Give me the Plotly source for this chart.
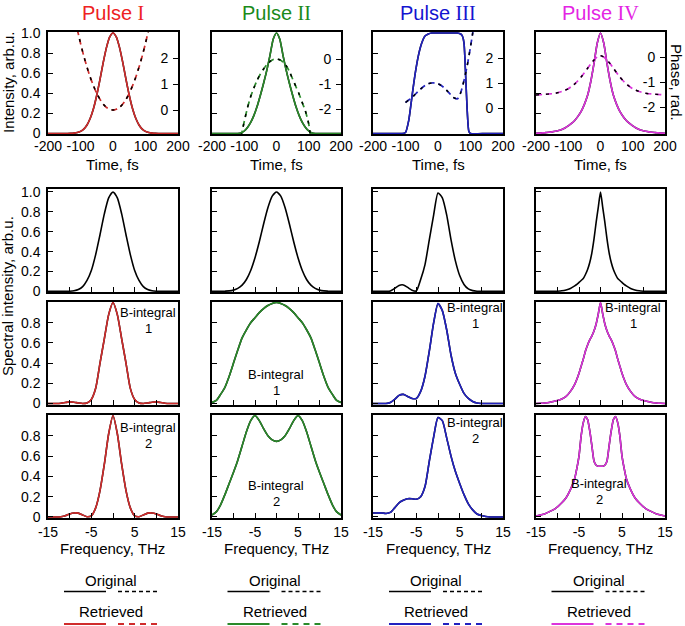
import plotly.graph_objects as go

W, H = 685, 626

# ---------------- data ----------------
PULSES = ["I", "II", "III", "IV"]
TITLE_COLORS = ["#ee2222", "#1a8a1a", "#1414d0", "#e424e4"]
LINE_COLORS = ["#d02c2c", "#2a8a2a", "#2222c0", "#dc34dc"]

# time grid (fs)
T = [-200, -190, -180, -170, -160, -150, -140, -130, -120, -110, -100, -90, -80, -70, -60,
     -50, -40, -30, -20, -10, 0, 10, 20, 30, 40, 50, 60, 70, 80, 90, 100, 110, 120, 130,
     140, 150, 160, 170, 180, 190, 200]

INT_I = [0, 0, 0, 0, 0, 0, 0, 0.001, 0.004, 0.009, 0.021, 0.044, 0.085, 0.151, 0.249, 0.381,
         0.539, 0.707, 0.857, 0.962, 1.0, 0.962, 0.857, 0.707, 0.539, 0.381, 0.249, 0.151,
         0.085, 0.044, 0.021, 0.009, 0.004, 0.001, 0, 0, 0, 0, 0, 0, 0]
INT_II = [0, 0, 0, 0, 0, 0, 0, 0, 0, 0.005, 0.025, 0.06, 0.11, 0.18, 0.27, 0.38, 0.5, 0.63,
          0.78, 0.94, 1.0, 0.94, 0.78, 0.63, 0.5, 0.38, 0.27, 0.18, 0.11, 0.06, 0.025, 0.005,
          0, 0, 0, 0, 0, 0, 0, 0, 0]
T_III = [-200, -150, -110, -100, -90, -80, -70, -60, -50, -40, -30, -20, 0, 20, 40, 60, 70,
         75, 80, 85, 90, 95, 100, 150, 200]
INT_III = [0, 0, 0, 0.01, 0.13, 0.37, 0.6, 0.78, 0.9, 0.97, 0.99, 1.0, 1.0, 1.0, 1.0, 1.0,
           0.99, 0.97, 0.9, 0.58, 0.22, 0.02, 0, 0, 0]
INT_IV = [0.003, 0.004, 0.006, 0.009, 0.012, 0.016, 0.022, 0.03, 0.04, 0.055, 0.075, 0.1,
          0.13, 0.17, 0.22, 0.29, 0.38, 0.52, 0.7, 0.9, 1.0, 0.9, 0.7, 0.52, 0.38, 0.29, 0.22,
          0.17, 0.13, 0.1, 0.075, 0.055, 0.04, 0.03, 0.022, 0.016, 0.012, 0.009, 0.006,
          0.004, 0.003]

# phases (rad)
T_PH_I = [-110, -100, -90, -80, -70, -60, -50, -40, -30, -20, -10, 0, 10, 20, 30, 40, 50,
          60, 70, 80, 90, 100, 110]
PH_I = [3.11, 2.57, 2.08, 1.65, 1.26, 0.93, 0.64, 0.41, 0.23, 0.10, 0.03, 0.0, 0.03, 0.10,
        0.23, 0.41, 0.64, 0.93, 1.26, 1.65, 2.08, 2.57, 3.11]
T_PH_II = [-110, -100, -90, -80, -70, -60, -50, -40, -30, -20, -10, 0, 10, 20, 30, 40, 50,
           60, 70, 80, 90, 100, 105]
PH_II = [-3.1, -2.5, -1.95, -1.5, -1.15, -0.85, -0.6, -0.4, -0.23, -0.1, -0.02, 0.0, -0.03,
         -0.12, -0.27, -0.5, -0.8, -1.1, -1.4, -1.75, -2.1, -2.6, -3.05]
T_PH_III = [-100, -90, -80, -70, -60, -50, -40, -30, -20, -10, 0, 10, 20, 30, 40, 50, 60,
            70, 80, 90, 100, 108]
PH_III = [0.22, 0.32, 0.42, 0.55, 0.68, 0.8, 0.9, 0.97, 1.0, 1.0, 0.97, 0.9, 0.8, 0.66,
          0.52, 0.4, 0.37, 0.62, 1.1, 1.7, 2.45, 3.1]
PH_IV = [-1.52, -1.51, -1.5, -1.49, -1.48, -1.47, -1.45, -1.42, -1.38, -1.33, -1.27, -1.18,
         -1.08, -0.95, -0.8, -0.63, -0.45, -0.27, -0.12, 0.0, 0.05, 0.0, -0.12, -0.27, -0.45,
         -0.63, -0.8, -0.95, -1.08, -1.18, -1.27, -1.33, -1.38, -1.42, -1.45, -1.47, -1.48,
         -1.49, -1.5, -1.51, -1.52]

PH_RANGES = [[-0.92, 3.0], [-3.0, 1.08], [-1.04, 3.04], [-3.08, 1.0]]
PH_TICKS = [[0, 1, 2], [-2, -1, 0], [0, 1, 2], [-2, -1, 0]]
PH_TEXT = [["0", "1", "2"], ["-2", "-1", "0"], ["0", "1", "2"], ["-2", "-1", "0"]]

# frequency grid (THz)
F = [-15, -14, -13, -12, -11, -10, -9, -8, -7, -6, -5, -4, -3, -2, -1, 0, 1, 2, 3, 4, 5, 6,
     7, 8, 9, 10, 11, 12, 13, 14, 15]
F_IV = [-15, -14, -13, -12, -11, -10, -9, -8, -7, -6, -5.5, -5, -4.5, -4, -3.5, -3, -2.5, -2,
        -1.5, -1, -0.5, 0, 0.5, 1, 1.5, 2, 2.5, 3, 3.5, 4, 4.5, 5, 5.5, 6, 7, 8, 9, 10, 11, 12,
        13, 14, 15]

SPEC_I_ORIG = [0, 0, 0, 0, 0, 0.002, 0.007, 0.019, 0.048, 0.11, 0.21, 0.37, 0.57, 0.78, 0.94,
               1.0, 0.94, 0.78, 0.57, 0.37, 0.21, 0.11, 0.048, 0.019, 0.007, 0.002, 0, 0, 0,
               0, 0]
SPEC_I_B1 = [0, 0, 0, 0.003, 0.01, 0.016, 0.012, 0.005, 0.0, 0.005, 0.04, 0.15, 0.40, 0.64,
             0.88, 1.0, 0.88, 0.64, 0.40, 0.15, 0.04, 0.005, 0.0, 0.005, 0.012, 0.016, 0.01,
             0.003, 0, 0, 0]
SPEC_I_B2 = [0, 0, 0, 0.003, 0.012, 0.03, 0.04, 0.038, 0.02, 0.003, 0.012, 0.09, 0.26, 0.52,
             0.82, 1.0, 0.82, 0.52, 0.26, 0.09, 0.012, 0.003, 0.02, 0.038, 0.04, 0.03, 0.012,
             0.003, 0, 0, 0]
SPEC_II_ORIG = [0, 0, 0, 0.002, 0.005, 0.013, 0.03, 0.063, 0.12, 0.211, 0.339, 0.5, 0.678,
                0.841, 0.958, 1.0, 0.958, 0.841, 0.678, 0.5, 0.339, 0.211, 0.12, 0.063, 0.03,
                0.013, 0.005, 0.002, 0, 0, 0]
SPEC_II_B1 = [0.01, 0.03, 0.09, 0.16, 0.27, 0.4, 0.53, 0.65, 0.73, 0.8, 0.85, 0.9, 0.94, 0.97,
              0.99, 1.0, 0.99, 0.97, 0.94, 0.9, 0.85, 0.8, 0.73, 0.65, 0.53, 0.4, 0.27, 0.16,
              0.09, 0.03, 0.01]
SPEC_II_B2 = [0.02, 0.05, 0.12, 0.22, 0.33, 0.44, 0.56, 0.7, 0.84, 0.95, 1.0, 0.95, 0.87,
              0.8, 0.76, 0.745, 0.76, 0.8, 0.87, 0.95, 1.0, 0.95, 0.84, 0.7, 0.56, 0.44, 0.33,
              0.22, 0.12, 0.05, 0.02]
SPEC_III_ORIG = [0, 0, 0, 0, 0.005, 0.03, 0.06, 0.065, 0.04, 0.012, 0.005, 0.12, 0.27, 0.52,
                 0.77, 0.99, 0.94, 0.77, 0.52, 0.31, 0.16, 0.07, 0.025, 0.008, 0.002, 0, 0, 0,
                 0, 0, 0]
SPEC_III_B1 = [0, 0, 0, 0, 0.01, 0.04, 0.08, 0.09, 0.07, 0.05, 0.05, 0.12, 0.27, 0.52, 0.8,
               0.99, 0.92, 0.73, 0.48, 0.3, 0.19, 0.1, 0.05, 0.02, 0.005, 0, 0, 0, 0, 0, 0]
SPEC_III_B2 = [0.04, 0.04, 0.04, 0.035, 0.045, 0.09, 0.14, 0.165, 0.18, 0.18, 0.175, 0.2,
               0.3, 0.55, 0.79, 0.98, 0.95, 0.78, 0.6, 0.45, 0.33, 0.22, 0.13, 0.07, 0.03,
               0.015, 0.005, 0, 0, 0, 0]
SPEC_IV_ORIG = [0, 0, 0, 0, 0, 0.002, 0.006, 0.015, 0.03, 0.055, 0.07, 0.09, 0.11, 0.13,
                0.17, 0.22, 0.29, 0.39, 0.53, 0.7, 0.85, 1.0, 0.85, 0.7, 0.53, 0.39, 0.29,
                0.22, 0.17, 0.13, 0.11, 0.09, 0.07, 0.055, 0.03, 0.015, 0.006, 0.002, 0, 0, 0,
                0, 0]
SPEC_IV_B1 = [0, 0.002, 0.005, 0.01, 0.02, 0.03, 0.045, 0.07, 0.12, 0.19, 0.24, 0.3, 0.37,
              0.44, 0.52, 0.58, 0.63, 0.67, 0.72, 0.79, 0.89, 1.0, 0.89, 0.79, 0.72, 0.67,
              0.63, 0.58, 0.52, 0.44, 0.37, 0.3, 0.24, 0.19, 0.12, 0.07, 0.045, 0.03, 0.02,
              0.01, 0.005, 0.002, 0]
SPEC_IV_B2 = [0.01, 0.02, 0.03, 0.05, 0.07, 0.1, 0.14, 0.19, 0.27, 0.38, 0.48, 0.6, 0.8,
              0.93, 0.99, 0.96, 0.85, 0.7, 0.55, 0.51, 0.5, 0.5, 0.5, 0.51, 0.55, 0.7, 0.85,
              0.96, 0.99, 0.93, 0.8, 0.6, 0.48, 0.38, 0.27, 0.19, 0.14, 0.1, 0.07, 0.05, 0.03,
              0.02, 0.01]

TIME_DATA = [(T, INT_I, T_PH_I, PH_I), (T, INT_II, T_PH_II, PH_II),
             (T_III, INT_III, T_PH_III, PH_III), (T, INT_IV, T, PH_IV)]
SPEC_DATA = [(F, SPEC_I_ORIG, SPEC_I_B1, SPEC_I_B2), (F, SPEC_II_ORIG, SPEC_II_B1, SPEC_II_B2),
             (F, SPEC_III_ORIG, SPEC_III_B1, SPEC_III_B2),
             (F_IV, SPEC_IV_ORIG, SPEC_IV_B1, SPEC_IV_B2)]

TIME_TICKS = [-200, -100, 0, 100, 200]
TIME_TEXT = ["-200", "-100", "0", "100", "200"]
FREQ_TICKS = [-15, -10, -5, 0, 5, 10, 15]
FREQ_TEXT = ["-15", "", "-5", "", "5", "", "15"]

# ---------------- layout geometry (pixels) ----------------
COLS = [(48, 178), (212, 341), (373, 503), (536, 665)]
ROWS = [(32, 134), (189, 292), (302, 405), (415, 518)]
Y_RANGES = [[-0.005, 1.01], [-0.006, 1.03], [-0.015, 1.005], [-0.01, 1.005]]
FONT = "Liberation Sans, Arial, sans-serif"


def px(x):
    return x / W


def py(y):
    return 1 - y / H


fig = go.Figure()
layout = dict(width=W, height=H,
              margin=dict(l=0, r=0, t=0, b=0, pad=0, autoexpand=False),
              paper_bgcolor="white", plot_bgcolor="white", showlegend=False,
              font=dict(family=FONT, size=14, color="black"))

SPLINE = dict(shape="spline", smoothing=0.6)

for r in range(4):
    for c in range(4):
        k = r * 4 + c + 1
        xa = "xaxis" if k == 1 else f"xaxis{k}"
        ya = "yaxis" if k == 1 else f"yaxis{k}"
        xref = "x" if k == 1 else f"x{k}"
        yref = "y" if k == 1 else f"y{k}"
        common = dict(showline=True, mirror=True, linecolor="black", linewidth=1.5,
                      showgrid=False, zeroline=False, automargin=False,
                      tickfont=dict(size=14, family=FONT))
        if r == 0:
            xdict = dict(domain=[px(COLS[c][0]), px(COLS[c][1])], range=[-200, 200],
                         tickvals=TIME_TICKS, ticktext=TIME_TEXT, ticks="",
                         ticklabelstandoff=-2,
                         ticklabeloverflow="allow", anchor=yref, **common)
        else:
            xdict = dict(domain=[px(COLS[c][0]), px(COLS[c][1])], range=[-15, 15],
                         tickvals=FREQ_TICKS, ticktext=FREQ_TEXT, ticks="inside",
                         ticklen=5, tickwidth=1.3, tickcolor="black",
                         ticklabeloverflow="allow",
                         showticklabels=(r == 3), anchor=yref, **common)
        if r <= 1:
            yt = [0, 0.2, 0.4, 0.6, 0.8, 1.0]
            ytt = ["0", "0.2", "0.4", "0.6", "0.8", "1.0"]
        else:
            yt = [0, 0.2, 0.4, 0.6, 0.8]
            ytt = ["0", "0.2", "0.4", "0.6", "0.8"]
        ydict = dict(domain=[py(ROWS[r][1]), py(ROWS[r][0])], range=Y_RANGES[r],
                     tickvals=yt, ticktext=ytt, ticks="inside", ticklen=5, tickwidth=1.3,
                     tickcolor="black", showticklabels=(c == 0), ticklabelstandoff=3,
                     ticklabeloverflow="allow", anchor=xref, **common)
        layout[xa] = xdict
        layout[ya] = ydict

# phase axes: drawn at the right frame of each top panel, ticks and labels pointing inwards
for c in range(4):
    k = 17 + c
    base_y = "y" if c == 0 else f"y{c + 1}"
    layout[f"yaxis{k}"] = dict(overlaying=base_y, anchor="free", position=px(COLS[c][1]),
                               side="left", range=PH_RANGES[c], tickvals=PH_TICKS[c],
                               ticktext=PH_TEXT[c], ticks="outside", ticklen=5, tickwidth=1.3,
                               tickcolor="black", showline=False, showgrid=False,
                               zeroline=False, automargin=False, ticklabelstandoff=2,
                               tickfont=dict(size=14, family=FONT))

# ---------------- traces ----------------
for c in range(4):
    col = LINE_COLORS[c]
    xr = "x" if c == 0 else f"x{c + 1}"
    yr = "y" if c == 0 else f"y{c + 1}"
    tx, ti, tpx, tpy = TIME_DATA[c]
    # intensity: original (black) and retrieved (colour)
    fig.add_trace(go.Scatter(x=tx, y=ti, xaxis=xr, yaxis=yr, mode="lines",
                             line=dict(color="black", width=1.6, **SPLINE)))
    fig.add_trace(go.Scatter(x=tx, y=ti, xaxis=xr, yaxis=yr, mode="lines",
                             line=dict(color=col, width=1.6, **SPLINE)))
    # phase: retrieved dashed (colour) and original dashed (black)
    fig.add_trace(go.Scatter(x=tpx, y=tpy, xaxis=xr, yaxis=f"y{17 + c}", mode="lines",
                             line=dict(color=col, width=1.7, dash="6px,4px", **SPLINE)))
    fig.add_trace(go.Scatter(x=tpx, y=tpy, xaxis=xr, yaxis=f"y{17 + c}", mode="lines",
                             line=dict(color="black", width=1.5, dash="3px,7px", **SPLINE)))

    fx, s0, s1, s2 = SPEC_DATA[c]
    for r, s in ((1, s0), (2, s1), (3, s2)):
        k = r * 4 + c + 1
        fig.add_trace(go.Scatter(x=fx, y=s, xaxis=f"x{k}", yaxis=f"y{k}", mode="lines",
                                 line=dict(color="black", width=1.6, **SPLINE)))
        if r > 1:
            fig.add_trace(go.Scatter(x=fx, y=s, xaxis=f"x{k}", yaxis=f"y{k}", mode="lines",
                                     line=dict(color=col, width=1.6, **SPLINE)))

# ---------------- annotations ----------------
ann = []


def text(x, y, s, size=15, color="black", angle=0, family=FONT):
    ann.append(dict(x=px(x), y=py(y), xref="paper", yref="paper", text=s, showarrow=False,
                    xanchor="center", yanchor="middle", textangle=angle,
                    font=dict(size=size, color=color, family=family)))


for c in range(4):
    cx = (COLS[c][0] + COLS[c][1]) / 2
    text(cx, 13, f"Pulse <span style='font-family:Liberation Serif'>{PULSES[c]}</span>",
         size=20, color=TITLE_COLORS[c])
    text(cx, 164, "Time, fs")
    text(cx, 548, "Frequency, THz")
    text(cx - 2, 580, "Original")
    text(cx - 2, 611, "Retrieved")

text(8, 83, "Intensity, arb.u.", angle=-90)
text(8, 296, "Spectral intensity, arb.u.", angle=-90)
text(677, 82, "Phase, rad.", angle=90)

BINT = [  # (x, y of "B-integral", label)
    (148, 312, "1"), (148, 427, "2"),
    (276, 374, "1"), (276, 485, "2"),
    (475, 308, "1"), (475, 423, "2"),
    (633, 308, "1"), (599, 483, "2"),
]
for bx, by, lab in BINT:
    text(bx, by, "B-integral", size=13)
    text(bx, by + 16, lab, size=13)

layout["annotations"] = ann

# legend sample lines
shapes = []
for c in range(4):
    cx = (COLS[c][0] + COLS[c][1]) / 2
    for yy, colr, w in ((591.5, "black", 1.6), (624, LINE_COLORS[c], 2.2)):
        shapes.append(dict(type="line", xref="paper", yref="paper", x0=px(cx - 49),
                           x1=px(cx - 7), y0=py(yy), y1=py(yy),
                           line=dict(color=colr, width=w)))
    shapes.append(dict(type="line", xref="paper", yref="paper", x0=px(cx + 5), x1=px(cx + 46),
                       y0=py(591.5), y1=py(591.5),
                       line=dict(color="black", width=1.6, dash="4px,3px")))
    shapes.append(dict(type="line", xref="paper", yref="paper", x0=px(cx + 5), x1=px(cx + 46),
                       y0=py(624), y1=py(624),
                       line=dict(color=LINE_COLORS[c], width=2.2, dash="6px,5px")))
layout["shapes"] = shapes

fig.update_layout(**layout)
fig.write_html("out.html", config={"displayModeBar": False},
               post_script="document.body.style.margin='0px';"
                           "document.body.style.overflow='hidden';")
